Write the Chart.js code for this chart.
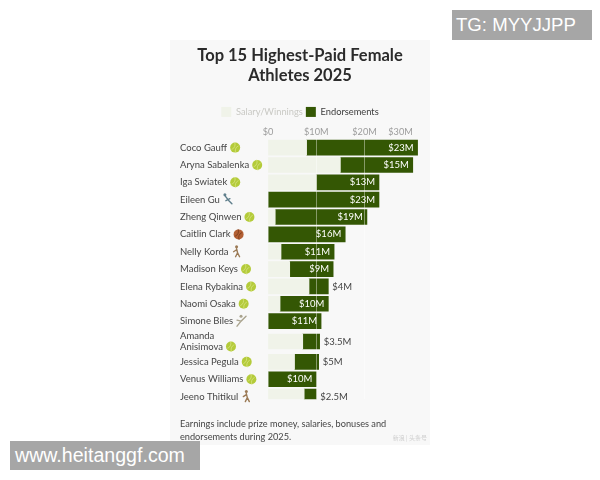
<!DOCTYPE html>
<html>
<head>
<meta charset="utf-8">
<style>
  html, body { margin: 0; padding: 0; background: #fff; }
  #wrap { position: relative; width: 600px; height: 480px; overflow: hidden; }
  #panel { position: absolute; left: 170px; top: 40px; width: 260px; height: 405px; background: #f8f8f8; }
  canvas { position: absolute; left: 0; top: 0; }
  .stamp { position: absolute; background: #a6a6a6; color: #fff; font-family: "Liberation Sans", sans-serif; }
  #tg { left: 452px; top: 10px; width: 140px; height: 30px; line-height: 30px; font-size: 18.6px; text-indent: 4px; }
  #site { left: 10px; top: 441px; width: 190px; height: 29px; line-height: 29px; font-size: 19.6px; text-indent: 5px; }
</style>
</head>
<body>
<div id="wrap">
  <div id="panel"></div>
  <canvas id="chart" width="600" height="480"></canvas>
  <div class="stamp" id="tg">TG: MYYJJPP</div>
  <div class="stamp" id="site">www.heitanggf.com</div>
</div>
<script src="https://cdn.jsdelivr.net/npm/chart.js@4"></script>
<script>
const athletes = ['Coco Gauff', 'Aryna Sabalenka', 'Iga Swiatek', 'Eileen Gu', 'Zheng Qinwen', 'Caitlin Clark', 'Nelly Korda',
    'Madison Keys', 'Elena Rybakina', 'Naomi Osaka', 'Simone Biles', ['Amanda', 'Anisimova'], 'Jessica Pegula', 'Venus Williams', 'Jeeno Thitikul'];
const sports = ['tennis', 'tennis', 'tennis', 'ski', 'tennis', 'basketball', 'golf', 'tennis', 'tennis', 'tennis', 'gym', 'tennis', 'tennis', 'tennis', 'golf'];
const salary = [8, 15, 10, 0, 1.5, 0, 2.7, 4.5, 8.5, 2.5, 0, 7.2, 5.5, 0, 7.5];
const endorsements = [23, 15, 13, 23, 19, 16, 11, 9, 4, 10, 11, 3.5, 5, 10, 2.5];
const titleLines = ['Top 15 Highest-Paid Female', 'Athletes 2025'];
const noteLines = ['Earnings include prize money, salaries, bonuses and', 'endorsements during 2025.'];

const FONT = 'Lato';
const DARK = '#345704';
const LIGHT = '#f0f3e9';

// the two-line label pushes the rows after it down a little
class RowScale extends Chart.CategoryScale {
    getPixelForValue(value, index) {
        const i = typeof value === 'number' ? value : index;
        const shift = i === 11 ? 3 : i > 11 ? 6 : 0;
        return super.getPixelForValue(value, index) + shift;
    }
}
RowScale.id = 'rowscale';
RowScale.defaults = Chart.CategoryScale.defaults;
Chart.register(RowScale);

function drawIcon(ctx, sport, x, y) {
    ctx.save();
    ctx.lineCap = 'round';
    if (sport === 'tennis' || sport === 'basketball') {
        ctx.fillStyle = sport === 'tennis' ? '#b4cb3a' : '#b25f33';
        ctx.beginPath();
        ctx.arc(x, y, 5, 0, Math.PI * 2);
        ctx.fill();
        ctx.strokeStyle = sport === 'tennis' ? '#dbe78c' : '#6e3517';
        ctx.lineWidth = 0.7;
        ctx.beginPath();
        ctx.arc(x - 5, y - 3, 5, -0.4, 1.2);
        ctx.stroke();
        ctx.beginPath();
        ctx.arc(x + 5, y + 3, 5, 2.7, 4.3);
        ctx.stroke();
    } else {
        // small stick figures for the other sports
        ctx.strokeStyle = sport === 'ski' ? '#5f7f8c' : sport === 'golf' ? '#9b7a55' : '#a9a38d';
        ctx.lineWidth = 1.4;
        ctx.beginPath();
        if (sport === 'ski') {
            ctx.moveTo(x - 3, y - 4); ctx.lineTo(x + 1, y + 1); ctx.lineTo(x + 4, y + 4);
            ctx.moveTo(x - 2, y + 1); ctx.lineTo(x + 2, y - 1);
        } else if (sport === 'golf') {
            ctx.moveTo(x, y - 3); ctx.lineTo(x + 1, y + 1); ctx.lineTo(x - 1, y + 5);
            ctx.moveTo(x + 1, y + 1); ctx.lineTo(x + 3, y + 5);
            ctx.moveTo(x, y - 2); ctx.lineTo(x - 3, y);
        } else {
            ctx.moveTo(x - 4, y + 5); ctx.lineTo(x, y); ctx.lineTo(x + 5, y - 5);
            ctx.moveTo(x, y); ctx.lineTo(x - 4, y - 1);
        }
        ctx.stroke();
        ctx.fillStyle = ctx.strokeStyle;
        ctx.beginPath();
        ctx.arc(x + (sport === 'ski' ? -3 : 0), y - 5, 1.5, 0, Math.PI * 2);
        ctx.fill();
    }
    ctx.restore();
}

const rowExtras = {
    id: 'rowExtras',
    afterDatasetsDraw(chart) {
        const ctx = chart.ctx;
        const bars = chart.getDatasetMeta(1).data;
        ctx.save();
        ctx.font = `9.5px ${FONT}`;
        ctx.textBaseline = 'middle';
        bars.forEach((bar, i) => {
            const v = endorsements[i];
            const outside = v <= 5;
            ctx.textAlign = outside ? 'left' : 'right';
            ctx.fillStyle = outside ? '#444' : '#fff';
            ctx.fillText(`$${v}M`, bar.x + (outside ? 4 : -4), bar.y);
        });
        ctx.restore();
    },
    afterDraw(chart) {
        const ctx = chart.ctx;
        const yScale = chart.scales.y;
        ctx.save();
        ctx.font = `9.5px ${FONT}`;
        sports.forEach((sport, i) => {
            const label = athletes[i];
            const two = Array.isArray(label);
            const text = two ? label[1] : label;
            const x = yScale.left + ctx.measureText(text).width + 8;
            drawIcon(ctx, sport, x, yScale.getPixelForTick(i) + (two ? 5 : 0));
        });
        // faint source mark in the corner of the panel
        ctx.font = `6px "Noto Sans CJK SC"`;
        ctx.fillStyle = '#cfcfcf';
        ctx.textAlign = 'right';
        ctx.fillText('新浪 | 头条号', 427, 438);
        ctx.restore();
    }
};

new Chart(document.getElementById('chart'), {
    type: 'bar',
    data: {
        labels: athletes,
        datasets: [
            { label: 'Salary/Winnings', data: salary, backgroundColor: LIGHT, barThickness: 15 },
            { label: 'Endorsements', data: endorsements, backgroundColor: DARK, barThickness: 15 }
        ]
    },
    options: {
        indexAxis: 'y',
        responsive: false,
        animation: false,
        layout: { padding: { left: 180, right: 180, top: 46, bottom: 37 } },
        scales: {
            x: {
                position: 'top',
                stacked: true,
                min: 0,
                max: 31.5,
                border: { display: false },
                grid: {
                    z: 1,
                    drawTicks: false,
                    color: ctx => ctx.tick && ctx.tick.value > 0 && ctx.tick.value < 30 ? 'rgba(255,255,255,0.4)' : 'transparent'
                },
                // dummy first tick so align 'inner' only pulls the $30M label in, as in the picture
                afterBuildTicks: scale => { scale.ticks.unshift({ value: 0 }); },
                afterFit: scale => { scale.height = 12; },
                ticks: {
                    stepSize: 10,
                    includeBounds: false,
                    autoSkip: false,
                    align: 'inner',
                    maxRotation: 0,
                    padding: 1,
                    color: '#9c9c9c',
                    font: { family: FONT, size: 9.2 },
                    callback: (v, i) => i === 0 ? '' : v === 0 ? '$0' : `$${v}M`
                }
            },
            y: {
                type: 'rowscale',
                stacked: true,
                border: { display: false },
                grid: { display: false, drawTicks: false },
                afterFit: scale => { scale.width = 88; },
                ticks: {
                    autoSkip: false,
                    crossAlign: 'far',
                    color: '#454545',
                    font: { family: FONT, size: 9.5, lineHeight: 1.1 }
                }
            }
        },
        plugins: {
            title: {
                display: true,
                text: titleLines,
                color: '#2b2b2b',
                font: { family: FONT, size: 16.5, weight: 'bold', lineHeight: 1.21 },
                padding: { top: 0, bottom: 18 }
            },
            subtitle: {
                display: true,
                position: 'bottom',
                align: 'start',
                text: noteLines,
                color: '#454545',
                font: { family: FONT, size: 9.2, lineHeight: 1.4 },
                padding: { top: 18, bottom: 0 }
            },
            legend: {
                position: 'top',
                labels: {
                    boxWidth: 10,
                    boxHeight: 10,
                    padding: 3,
                    font: { family: FONT, size: 9.3 },
                    generateLabels: chart => chart.data.datasets.map((d, i) => ({
                        text: d.label,
                        fillStyle: d.backgroundColor,
                        strokeStyle: d.backgroundColor,
                        lineWidth: 0,
                        datasetIndex: i,
                        fontColor: i === 0 ? '#c9c9c4' : '#3c3c3c'
                    }))
                }
            },
            tooltip: { enabled: false }
        }
    },
    plugins: [rowExtras]
});
</script>
</body>
</html>
